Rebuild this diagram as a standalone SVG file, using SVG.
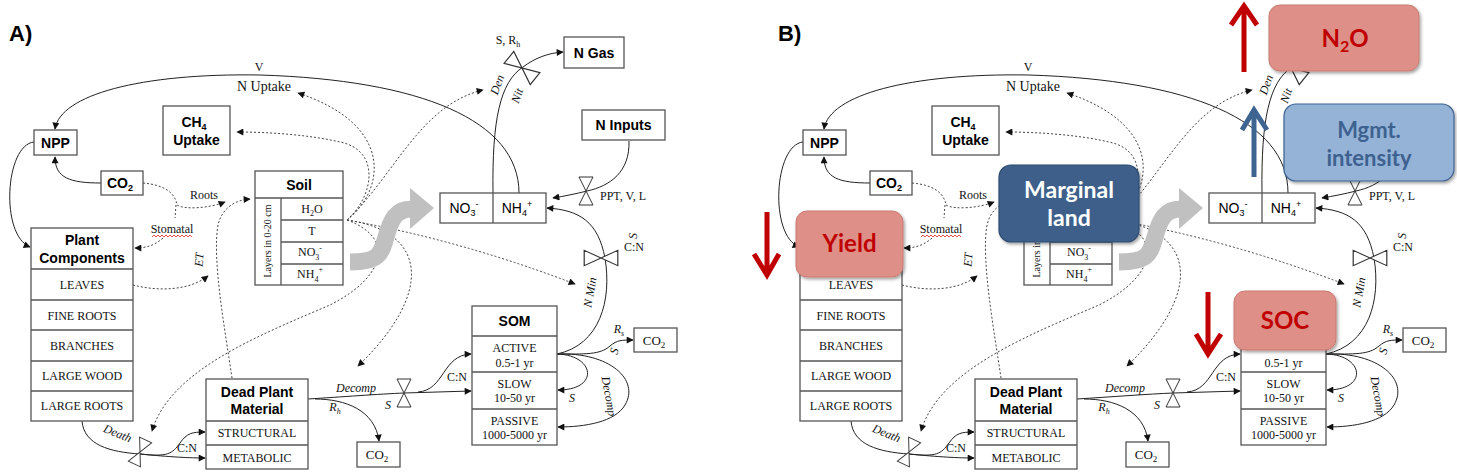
<svg xmlns="http://www.w3.org/2000/svg" xmlns:xlink="http://www.w3.org/1999/xlink" width="1457" height="475" viewBox="0 0 1457 475">
<style>
.box{fill:#fff;stroke:#555;stroke-width:1.3}
.div{stroke:#555;stroke-width:1.3;fill:none}
.t{font-family:"Liberation Sans",Arial,sans-serif;font-weight:bold;font-size:14px;text-anchor:middle;fill:#000}
.n{font-family:"Liberation Sans",Arial,sans-serif;font-size:14px;text-anchor:middle;fill:#000}
.s{font-family:"Liberation Serif","Times New Roman",serif;font-size:12px;text-anchor:middle;fill:#111}
.i{font-style:italic}
.line{fill:none;stroke:#222;stroke-width:1}
.dot{fill:none;stroke:#444;stroke-width:1;stroke-dasharray:2 2}
.valve{fill:#fff;stroke:#333;stroke-width:1}
.gray{fill:none;stroke:#c0c0c0;stroke-width:17}
.title{font-family:"Liberation Sans",Arial,sans-serif;font-weight:bold;font-size:22px;fill:#000}
.ov{font-family:Lato,"Open Sans",sans-serif;font-weight:bold;font-size:24px;text-anchor:middle}
</style>
<defs>
<marker id="ah" viewBox="0 0 10 10" refX="9" refY="5" markerWidth="9" markerHeight="7" orient="auto" markerUnits="userSpaceOnUse"><path d="M0,0 L10,5 L0,10 Z" fill="#111"/></marker>
<path id="valve" d="M-7,-14 L7,-14 L-7,14 L7,14 Z"/>
<filter id="sh" x="-10%" y="-10%" width="130%" height="140%"><feDropShadow dx="1.5" dy="2" stdDeviation="1.5" flood-color="#000" flood-opacity="0.35"/></filter>
</defs>
<rect width="1457" height="475" fill="#fff"/>

<!-- ================= PANEL A ================= -->
<g id="panelA">
<text class="title" x="9" y="41">A)</text>
<g id="connectorsA">
<path class="line" d="M519,193 C519,120 420,80 260,75 C140,73 60,95 55,129" marker-end="url(#ah)"/>
<path class="line" d="M34,142 C5,145 0,235 30,247" marker-end="url(#ah)"/>
<path class="line" d="M101,183 C70,183 55,178 55,157" marker-end="url(#ah)"/>
<path class="line" d="M82,421 C84,445 110,452 140,454"/>
<path class="line" d="M140,454 C168,457 172,454 180,443 C187,433 192,432 205,432" marker-end="url(#ah)"/>
<path class="line" d="M140,454 C170,457 190,458 205,458" marker-end="url(#ah)"/>
<path class="line" d="M308,399 C340,397 380,394 404,393 L471,391" marker-end="url(#ah)"/>
<path class="line" d="M418,392 C445,390 442,355 471,354" marker-end="url(#ah)"/>
<path class="line" d="M315,399 C345,399 375,410 379,441" marker-end="url(#ah)"/>
<path class="line" d="M557,354 C600,345 612,300 605,258 C598,222 580,210 547,208" marker-end="url(#ah)"/>
<path class="line" d="M557,354 C585,354 600,355 610,346 C617,340 622,340 633,340" marker-end="url(#ah)"/>
<path class="line" d="M557,354 C595,355 600,390 558,390" marker-end="url(#ah)"/>
<path class="line" d="M557,354 C610,352 640,380 625,405 C615,422 585,427 558,427" marker-end="url(#ah)"/>
<path class="line" d="M493,193 C492,120 500,82 523,67 C535,58 548,53 563,52" marker-end="url(#ah)"/>
<path class="line" d="M629,141 C630,172 610,186 587,191 C575,194 565,196 553,198" marker-end="url(#ah)"/>
<path class="dot" d="M347,220 C385,190 395,125 298,93" marker-end="url(#ah)"/>
<path class="dot" d="M347,220 C375,195 380,150 340,142 C310,135 270,132 237,132" marker-end="url(#ah)"/>
<path class="dot" d="M347,220 C395,175 420,105 483,90" marker-end="url(#ah)"/>
<path class="dot" d="M347,220 Q460,240 575,284" marker-end="url(#ah)"/>
<path class="dot" d="M347,220 C430,232 432,295 358,366" marker-end="url(#ah)"/>
<path class="dot" d="M347,220 C400,240 380,280 330,305 C260,335 170,370 152,431" marker-end="url(#ah)"/>
<path class="dot" d="M143,183 C165,185 175,193 177,205 C185,210 210,208 225,202" marker-end="url(#ah)"/>
<path class="dot" d="M176,205 L175,218"/>
<path class="dot" d="M163,238 C155,245 147,248 135,248" marker-end="url(#ah)"/>
<path class="dot" d="M133,285 C160,292 190,290 208,276" marker-end="url(#ah)"/>
<path class="dot" d="M232,378 C225,330 212,260 218,225 C222,208 235,200 250,199" marker-end="url(#ah)"/>
</g>
<g id="grayArrowA">
<path class="gray" d="M350,262 C378,262 381,255 386,237 C391,219 396,209 412,209"/>
<polygon points="410,188 434,208 410,229" fill="#c0c0c0"/>
</g>
<g id="nppA"><rect class="box" x="34" y="130" width="43" height="25"/><text class="t" x="55.5" y="148">NPP</text></g>
<g id="co2topA"><rect class="box" x="101" y="171" width="42" height="24"/><text class="t" x="120" y="188">CO<tspan font-size="9" dy="3">2</tspan></text></g>
<g id="ch4A"><rect class="box" x="163" y="106" width="67" height="49"/><text class="t" x="194" y="127">CH<tspan font-size="9" dy="3">4</tspan></text><text class="t" x="196.5" y="145">Uptake</text></g>
<g id="plantA">
<rect class="box" x="31" y="228" width="102" height="193"/>
<path class="div" d="M31,269 H133 M31,300 H133 M31,330 H133 M31,361 H133 M31,391 H133"/>
<text class="t" x="82" y="245">Plant</text><text class="t" x="82" y="263">Components</text>
<text class="s" x="82" y="289">LEAVES</text>
<text class="s" x="82" y="320">FINE ROOTS</text>
<text class="s" x="82" y="350">BRANCHES</text>
<text class="s" x="82" y="380">LARGE WOOD</text>
<text class="s" x="82" y="410">LARGE ROOTS</text>
</g>
<g id="soilA">
<rect class="box" x="255" y="171" width="88" height="114"/>
<path class="div" d="M255,198 H343 M281,198 V285 M281,220 H343 M281,242 H343 M281,264 H343"/>
<text class="t" x="299" y="190">Soil</text>
<text class="s" x="312" y="213">H<tspan font-size="8" dy="3">2</tspan><tspan dy="-3">O</tspan></text>
<text class="s" x="312" y="235">T</text>
<text class="s" x="310" y="256">NO<tspan font-size="8" dy="4">3</tspan><tspan font-size="8" dy="-9">-</tspan></text>
<text class="s" x="310" y="278">NH<tspan font-size="8" dy="4">4</tspan><tspan font-size="8" dy="-10">+</tspan></text>
<text class="s" transform="translate(271,241) rotate(-90)" style="font-size:10px">Layers in 0-20 cm</text>
</g>
<g id="nboxA">
<rect class="box" x="440" y="193" width="106" height="30"/>
<path class="div" d="M493,193 V223"/>
<text class="n" x="464" y="213">NO<tspan font-size="9" dy="3">3</tspan><tspan font-size="9" dy="-9">-</tspan></text>
<text class="n" x="517" y="213">NH<tspan font-size="9" dy="3">4</tspan><tspan font-size="9" dy="-9">+</tspan></text>
</g>
<g id="ngasA"><rect class="box" x="564" y="37" width="60" height="31"/><text class="t" x="594" y="58">N Gas</text></g>
<g id="ninputsA"><rect class="box" x="582" y="110" width="83" height="30"/><text class="t" x="623.5" y="130">N Inputs</text></g>
<g id="somA">
<rect class="box" x="472" y="306" width="85" height="139"/>
<path class="div" d="M472,336 H557 M472,372 H557 M472,409 H557"/>
<text class="t" x="514.5" y="326">SOM</text>
<text class="s" x="514.5" y="352">ACTIVE</text><text class="s" x="514.5" y="367">0.5-1 yr</text>
<text class="s" x="514.5" y="388">SLOW</text><text class="s" x="514.5" y="402">10-50 yr</text>
<text class="s" x="514.5" y="425">PASSIVE</text><text class="s" x="514.5" y="439">1000-5000 yr</text>
</g>
<g id="co2rightA"><rect class="box" x="634" y="328" width="43" height="24"/><text class="s" x="654" y="345" style="font-size:13px">CO<tspan font-size="9" dy="3">2</tspan></text></g>
<g id="deadA">
<rect class="box" x="206" y="379" width="102" height="90"/>
<path class="div" d="M206,421 H308 M206,445 H308"/>
<text class="t" x="257" y="397">Dead Plant</text><text class="t" x="257" y="414">Material</text>
<text class="s" x="257" y="437">STRUCTURAL</text>
<text class="s" x="257" y="462">METABOLIC</text>
</g>
<g id="co2botA"><rect class="box" x="357" y="442" width="43" height="25"/><text class="s" x="377" y="459" style="font-size:13px">CO<tspan font-size="9" dy="3">2</tspan></text></g>
<g id="valvesA">
<use href="#valve" class="valve" transform="translate(140,452) rotate(25) scale(0.95)"/>
<use href="#valve" class="valve" transform="translate(404,393)"/>
<use href="#valve" class="valve" transform="translate(601,258) rotate(90) scale(1.1,1.2)"/>
<use href="#valve" class="valve" transform="translate(522,68) rotate(-51) scale(1.1,1.2)"/>
<use href="#valve" class="valve" transform="translate(586,191)"/>
</g>
<g id="labelsA">
<text class="s" x="259" y="71">V</text>
<text class="s" x="264" y="91" style="font-size:14px">N Uptake</text>
<text class="s" x="204" y="199">Roots</text>
<text class="s" x="172" y="233">Stomatal</text>
<path d="M152,237 l2,-2 l2,2 l2,-2 l2,2 l2,-2 l2,2 l2,-2 l2,2 l2,-2 l2,2 l2,-2 l2,2 l2,-2 l2,2 l2,-2 l2,2 l2,-2 l2,2 l2,-2 l2,2" fill="none" stroke="#e02020" stroke-width="0.8"/>
<text class="s i" transform="translate(203,260) rotate(-85)">ET</text>
<text class="s i" transform="translate(116,437) rotate(22)">Death</text>
<text class="s" x="187" y="452">C:N</text>
<text class="s i" x="356" y="392">Decomp</text>
<text class="s i" x="335" y="411">R<tspan font-size="8" dy="3">h</tspan></text>
<text class="s i" x="388" y="409">S</text>
<text class="s" x="457" y="381">C:N</text>
<text class="s i" x="572" y="402">S</text>
<text class="s i" transform="translate(605,397) rotate(80)">Decomp</text>
<text class="s i" x="619" y="333">R<tspan font-size="8" dy="3">s</tspan></text>
<text class="s i" transform="translate(618,352) rotate(-75)">S</text>
<text class="s i" transform="translate(594,293) rotate(-80)">N Min</text>
<text class="s i" transform="translate(637,236) rotate(-90)">S</text>
<text class="s" x="634" y="251">C:N</text>
<text class="s" x="508" y="44">S, R<tspan font-size="8" dy="3">h</tspan></text>
<text class="s i" transform="translate(501,86) rotate(-70)">Den</text>
<text class="s i" transform="translate(521,97) rotate(-70)">Nit</text>
<text class="s" x="600" y="200" style="text-anchor:start">PPT, V, L</text>
</g>
</g>

<!-- ================= PANEL B ================= -->
<text class="title" x="778" y="41">B)</text>
<g id="panelB" transform="translate(769,0)">
<g id="connectorsB">
<path class="line" d="M519,193 C519,120 420,80 260,75 C140,73 60,95 55,129" marker-end="url(#ah)"/>
<path class="line" d="M34,142 C5,145 0,235 30,247" marker-end="url(#ah)"/>
<path class="line" d="M101,183 C70,183 55,178 55,157" marker-end="url(#ah)"/>
<path class="line" d="M82,421 C84,445 110,452 140,454"/>
<path class="line" d="M140,454 C168,457 172,454 180,443 C187,433 192,432 205,432" marker-end="url(#ah)"/>
<path class="line" d="M140,454 C170,457 190,458 205,458" marker-end="url(#ah)"/>
<path class="line" d="M308,399 C340,397 380,394 404,393 L471,391" marker-end="url(#ah)"/>
<path class="line" d="M418,392 C445,390 442,355 471,354" marker-end="url(#ah)"/>
<path class="line" d="M315,399 C345,399 375,410 379,441" marker-end="url(#ah)"/>
<path class="line" d="M557,354 C600,345 612,300 605,258 C598,222 580,210 547,208" marker-end="url(#ah)"/>
<path class="line" d="M557,354 C585,354 600,355 610,346 C617,340 622,340 633,340" marker-end="url(#ah)"/>
<path class="line" d="M557,354 C595,355 600,390 558,390" marker-end="url(#ah)"/>
<path class="line" d="M557,354 C610,352 640,380 625,405 C615,422 585,427 558,427" marker-end="url(#ah)"/>
<path class="line" d="M493,193 C492,120 500,82 523,67 C535,58 548,53 563,52" marker-end="url(#ah)"/>
<path class="line" d="M629,141 C630,172 610,186 587,191 C575,194 565,196 553,198" marker-end="url(#ah)"/>
<path class="dot" d="M347,220 C385,190 395,125 298,93" marker-end="url(#ah)"/>
<path class="dot" d="M347,220 C375,195 380,150 340,142 C310,135 270,132 237,132" marker-end="url(#ah)"/>
<path class="dot" d="M347,220 C395,175 420,105 483,90" marker-end="url(#ah)"/>
<path class="dot" d="M347,220 Q460,240 575,284" marker-end="url(#ah)"/>
<path class="dot" d="M347,220 C430,232 432,295 358,366" marker-end="url(#ah)"/>
<path class="dot" d="M347,220 C400,240 380,280 330,305 C260,335 170,370 152,431" marker-end="url(#ah)"/>
<path class="dot" d="M143,183 C165,185 175,193 177,205 C185,210 210,208 225,202" marker-end="url(#ah)"/>
<path class="dot" d="M176,205 L175,218"/>
<path class="dot" d="M163,238 C155,245 147,248 135,248" marker-end="url(#ah)"/>
<path class="dot" d="M133,285 C160,292 190,290 208,276" marker-end="url(#ah)"/>
<path class="dot" d="M232,378 C225,330 212,260 218,225 C222,208 235,200 250,199" marker-end="url(#ah)"/>
</g>
<g id="grayArrowB">
<path class="gray" d="M350,262 C378,262 381,255 386,237 C391,219 396,209 412,209"/>
<polygon points="410,188 434,208 410,229" fill="#c0c0c0"/>
</g>
<g id="nppB"><rect class="box" x="34" y="130" width="43" height="25"/><text class="t" x="55.5" y="148">NPP</text></g>
<g id="co2topB"><rect class="box" x="101" y="171" width="42" height="24"/><text class="t" x="120" y="188">CO<tspan font-size="9" dy="3">2</tspan></text></g>
<g id="ch4B"><rect class="box" x="163" y="106" width="67" height="49"/><text class="t" x="194" y="127">CH<tspan font-size="9" dy="3">4</tspan></text><text class="t" x="196.5" y="145">Uptake</text></g>
<g id="plantB">
<rect class="box" x="31" y="228" width="102" height="193"/>
<path class="div" d="M31,269 H133 M31,300 H133 M31,330 H133 M31,361 H133 M31,391 H133"/>
<text class="s" x="82" y="289">LEAVES</text>
<text class="s" x="82" y="320">FINE ROOTS</text>
<text class="s" x="82" y="350">BRANCHES</text>
<text class="s" x="82" y="380">LARGE WOOD</text>
<text class="s" x="82" y="410">LARGE ROOTS</text>
</g>
<g id="soilB">
<rect class="box" x="255" y="171" width="88" height="114"/>
<path class="div" d="M255,198 H343 M281,198 V285 M281,220 H343 M281,242 H343 M281,264 H343"/>
<text class="s" x="310" y="256">NO<tspan font-size="8" dy="4">3</tspan><tspan font-size="8" dy="-9">-</tspan></text>
<text class="s" x="310" y="278">NH<tspan font-size="8" dy="4">4</tspan><tspan font-size="8" dy="-10">+</tspan></text>
<text class="s" transform="translate(271,241) rotate(-90)" style="font-size:10px">Layers in 0-20 cm</text>
</g>
<g id="nboxB">
<rect class="box" x="440" y="193" width="106" height="30"/>
<path class="div" d="M493,193 V223"/>
<text class="n" x="464" y="213">NO<tspan font-size="9" dy="3">3</tspan><tspan font-size="9" dy="-9">-</tspan></text>
<text class="n" x="517" y="213">NH<tspan font-size="9" dy="3">4</tspan><tspan font-size="9" dy="-9">+</tspan></text>
</g>
<g id="somB">
<rect class="box" x="472" y="306" width="85" height="139"/>
<path class="div" d="M472,336 H557 M472,372 H557 M472,409 H557"/>
<text class="s" x="514.5" y="367">0.5-1 yr</text>
<text class="s" x="514.5" y="388">SLOW</text><text class="s" x="514.5" y="402">10-50 yr</text>
<text class="s" x="514.5" y="425">PASSIVE</text><text class="s" x="514.5" y="439">1000-5000 yr</text>
</g>
<g id="co2rightB"><rect class="box" x="634" y="328" width="43" height="24"/><text class="s" x="654" y="345" style="font-size:13px">CO<tspan font-size="9" dy="3">2</tspan></text></g>
<g id="deadB">
<rect class="box" x="206" y="379" width="102" height="90"/>
<path class="div" d="M206,421 H308 M206,445 H308"/>
<text class="t" x="257" y="397">Dead Plant</text><text class="t" x="257" y="414">Material</text>
<text class="s" x="257" y="437">STRUCTURAL</text>
<text class="s" x="257" y="462">METABOLIC</text>
</g>
<g id="co2botB"><rect class="box" x="357" y="442" width="43" height="25"/><text class="s" x="377" y="459" style="font-size:13px">CO<tspan font-size="9" dy="3">2</tspan></text></g>
<g id="valvesB">
<use href="#valve" class="valve" transform="translate(140,452) rotate(25) scale(0.95)"/>
<use href="#valve" class="valve" transform="translate(404,393)"/>
<use href="#valve" class="valve" transform="translate(601,258) rotate(90) scale(1.1,1.2)"/>
<use href="#valve" class="valve" transform="translate(522,68) rotate(-51) scale(1.1,1.2)"/>
<use href="#valve" class="valve" transform="translate(586,191)"/>
</g>
<g id="labelsB">
<text class="s" x="259" y="71">V</text>
<text class="s" x="264" y="91" style="font-size:14px">N Uptake</text>
<text class="s" x="204" y="199">Roots</text>
<text class="s" x="172" y="233">Stomatal</text>
<path d="M152,237 l2,-2 l2,2 l2,-2 l2,2 l2,-2 l2,2 l2,-2 l2,2 l2,-2 l2,2 l2,-2 l2,2 l2,-2 l2,2 l2,-2 l2,2 l2,-2 l2,2 l2,-2 l2,2" fill="none" stroke="#e02020" stroke-width="0.8"/>
<text class="s i" transform="translate(203,260) rotate(-85)">ET</text>
<text class="s i" transform="translate(116,437) rotate(22)">Death</text>
<text class="s" x="187" y="452">C:N</text>
<text class="s i" x="356" y="392">Decomp</text>
<text class="s i" x="335" y="411">R<tspan font-size="8" dy="3">h</tspan></text>
<text class="s i" x="388" y="409">S</text>
<text class="s" x="457" y="381">C:N</text>
<text class="s i" x="572" y="402">S</text>
<text class="s i" transform="translate(605,397) rotate(80)">Decomp</text>
<text class="s i" x="619" y="333">R<tspan font-size="8" dy="3">s</tspan></text>
<text class="s i" transform="translate(618,352) rotate(-75)">S</text>
<text class="s i" transform="translate(594,293) rotate(-80)">N Min</text>
<text class="s i" transform="translate(637,236) rotate(-90)">S</text>
<text class="s" x="634" y="251">C:N</text>
<text class="s i" transform="translate(501,86) rotate(-70)">Den</text>
<text class="s i" transform="translate(521,97) rotate(-70)">Nit</text>
<text class="s" x="600" y="200" style="text-anchor:start">PPT, V, L</text>
</g>
</g>

<!-- Overlays panel B -->
<g id="n2o"><rect x="1269" y="5" width="150" height="66" rx="11" fill="#de9088" stroke="#c87a72" stroke-width="1" filter="url(#sh)"/><text class="ov" x="1345" y="47" fill="#c00000">N<tspan font-size="16" dy="5">2</tspan><tspan dy="-5">O</tspan></text></g>
<g id="mgmt"><rect x="1284" y="104" width="170" height="77" rx="12" fill="#95b3d7" stroke="#3e6290" stroke-width="1.2" filter="url(#sh)"/><text class="ov" x="1369" y="138" fill="#3e6290" style="font-size:22px">Mgmt.</text><text class="ov" x="1369" y="166" fill="#3e6290" style="font-size:22px">intensity</text></g>
<g id="marginal"><rect x="999" y="165" width="140" height="77" rx="12" fill="#3d5f8a" stroke="#2f4c70" stroke-width="1.2" filter="url(#sh)"/><text class="ov" x="1069" y="198" fill="#fff" style="font-size:23px">Marginal</text><text class="ov" x="1069" y="226" fill="#fff" style="font-size:23px">land</text></g>
<g id="yield"><rect x="796" y="211" width="107" height="66" rx="11" fill="#de9088" stroke="#c87a72" stroke-width="1" filter="url(#sh)"/><text class="ov" x="849.5" y="252" fill="#c00000">Yield</text></g>
<g id="soc"><rect x="1234" y="291" width="102" height="59" rx="11" fill="#de9088" stroke="#c87a72" stroke-width="1" filter="url(#sh)"/><text class="ov" x="1285" y="329" fill="#c00000">SOC</text></g>
<g id="arrowsB">
<path d="M1244,72 V6 M1231,25 L1244,6 L1257,25" fill="none" stroke="#c00000" stroke-width="5" stroke-linejoin="miter"/>
<path d="M1254,177 V110 M1242,130 L1254,110 L1267,130" fill="none" stroke="#3e6592" stroke-width="5"/>
<path d="M767,212 V275 M754,254 L767,275 L779,254" fill="none" stroke="#c00000" stroke-width="5"/>
<path d="M1208,292 V354 M1196,334 L1208,354 L1221,334" fill="none" stroke="#c00000" stroke-width="5"/>
</g>
</svg>
